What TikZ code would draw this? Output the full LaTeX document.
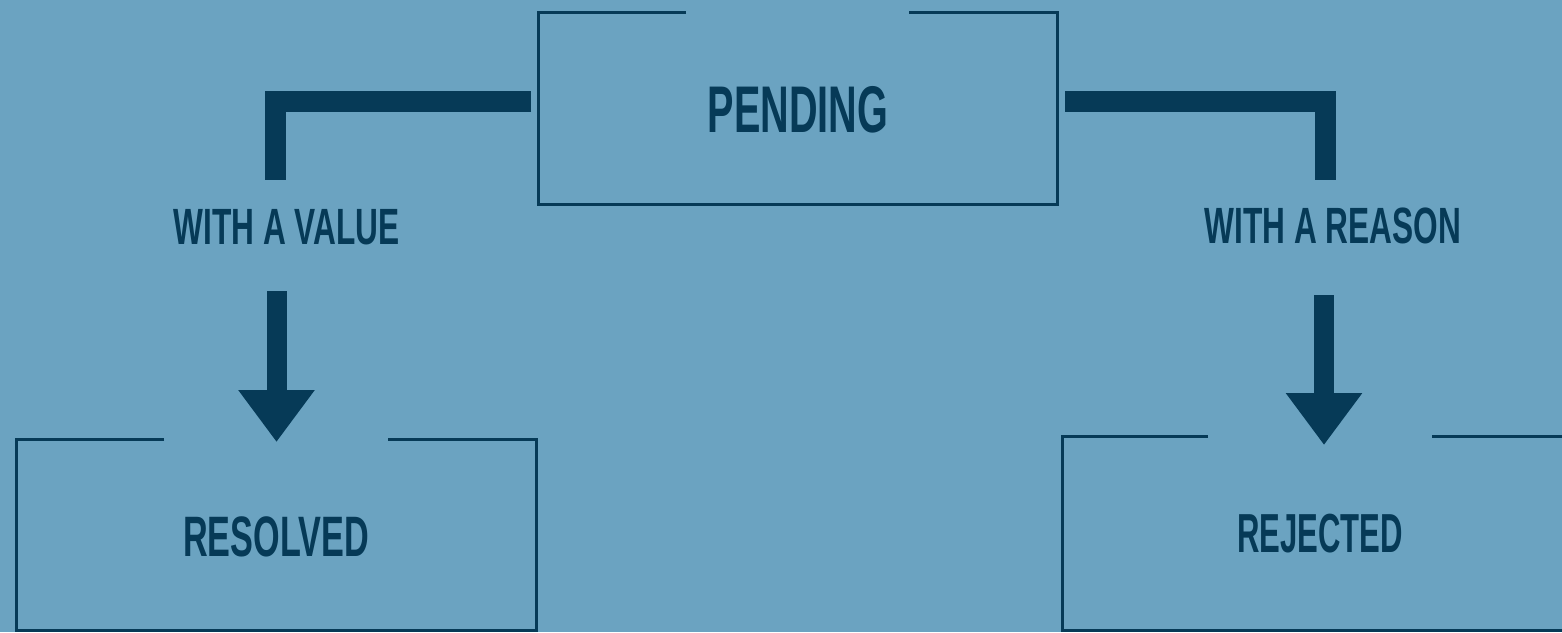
\documentclass[tikz,border=0pt]{standalone}
\usepackage{fontspec}
\usetikzlibrary{arrows.meta}
\newfontfamily\condfont{Liberation Sans}[FakeStretch=0.6]
\newfontfamily\condwide{Liberation Sans}[FakeStretch=0.62]
\newfontfamily\condnarrow{Liberation Sans}[FakeStretch=0.565]
\definecolor{bgblue}{HTML}{6BA3C1}
\definecolor{navy}{HTML}{063A57}
\tikzset{
  boxline/.style={draw=navy, line width=3pt},
  bar/.style={draw=navy, line width=21pt, line cap=butt, line join=miter},
  downarrow/.style={draw=navy, line width=20pt, line cap=butt, -{Triangle[width=73pt,length=52pt]}},
  lbl/.style={text=navy, inner sep=0pt, anchor=base},
}
\begin{document}
\begin{tikzpicture}[x=1pt,y=-1pt]
\fill[bgblue] (0,0) rectangle (1562,632);
\useasboundingbox (0,0) rectangle (1562,632);
% texts
\node[lbl, font=\condfont\bfseries\fontsize{66}{66}\selectfont] (pend) at (798,132) {PENDING};
\node[lbl, font=\condwide\bfseries\fontsize{51}{51}\selectfont] (val) at (286.5,244) {WITH A VALUE};
\node[lbl, font=\condwide\bfseries\fontsize{51}{51}\selectfont] (rea) at (1333,243) {WITH A REASON};
\node[lbl, font=\condfont\bfseries\fontsize{57}{57}\selectfont] (res) at (276,556) {RESOLVED};
\node[lbl, font=\condnarrow\bfseries\fontsize{55}{55}\selectfont] (rej) at (1320,552) {REJECTED};
% box outlines
\draw[boxline] (686,12) -- (538,12) -- (538,204) -- (1057,204) -- (1057,12) -- (909,12);
\draw[boxline] (164,439) -- (16,439) -- (16,630) -- (536,630) -- (536,439) -- (388,439);
\draw[boxline] (1208,436) -- (1062,436) -- (1062,630) -- (1600,630);
\draw[boxline] (1432,436) -- (1600,436);
% connector coordinates
\coordinate (pL) at (531,101.5);
\coordinate (pR) at (1065,101.5);
\coordinate (vTop) at (275,180);
\coordinate (rTop) at (1325.5,180);
\coordinate (vA) at (276.5,291);
\coordinate (vB) at (276.5,442);
\coordinate (rA) at (1324,295);
\coordinate (rB) at (1324,445);
\draw[bar] (pL) -| (vTop);
\draw[bar] (pR) -| (rTop);
\draw[downarrow] (vA) -- (vB);
\draw[downarrow] (rA) -- (rB);
\end{tikzpicture}
\end{document}
